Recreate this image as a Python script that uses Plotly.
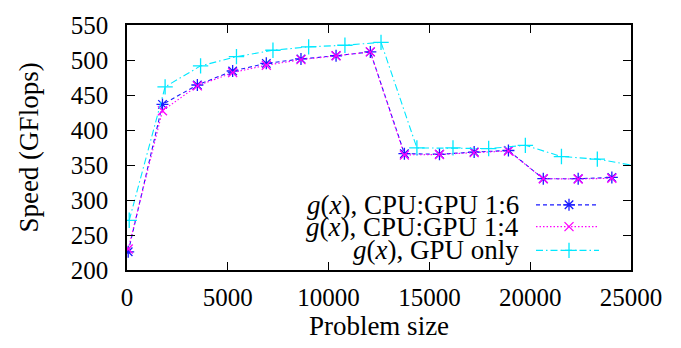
import plotly.graph_objects as go

# ---- data ----
x_cpu16 = [60, 1760, 3490, 5240, 6910, 8630, 10370, 12070, 13760, 15500, 17220, 18920, 20650, 22380, 24050]
y_cpu16 = [226, 436.6, 464.3, 484.3, 495.2, 501.5, 506.1, 511.6, 366.2, 365.3, 368.5, 370.7, 330.4, 330.4, 332.2]

x_cpu14 = [60, 1760, 3490, 5240, 6910, 8630, 10370, 12070, 13760, 15500, 17220, 18920, 20650, 22380, 24050]
y_cpu14 = [230, 427.5, 463.0, 482.0, 492.5, 500.5, 506.0, 511.6, 364.4, 365.0, 367.7, 370.0, 330.4, 330.0, 331.0]

x_gpu = [110, 1890, 3650, 5430, 7240, 9010, 10810, 12600, 14380, 16170, 17940, 19760, 21550, 23330, 25080]
y_gpu = [271, 461.6, 491.6, 504.8, 513.9, 518.8, 521.1, 525.2, 374.4, 374.4, 373.5, 378.1, 362.1, 358.4, 349.5]

names = ["<i>g</i>(<i>x</i>), CPU:GPU 1:6",
         "<i>g</i>(<i>x</i>), CPU:GPU 1:4",
         "<i>g</i>(<i>x</i>), GPU only"]
x_ticks = [0, 5000, 10000, 15000, 20000, 25000]
y_ticks = [200, 250, 300, 350, 400, 450, 500, 550]

FONT = "Liberation Serif"
FS_TICK = 25
FS_TEXT = 27

styles = [
    dict(color="#1a1aff", dash="4px,3px", symbol="asterisk-open", size=10),
    dict(color="#ff00ff", dash="1.5px,2px", symbol="x-thin-open", size=9),
    dict(color="#00e8ff", dash="7px,3px,1.5px,3px", symbol="cross-thin-open", size=11),
]
series = [(x_cpu16, y_cpu16), (x_cpu14, y_cpu14), (x_gpu, y_gpu)]

fig = go.Figure()
for (xs, ys), st, nm in zip(series, styles, names):
    fig.add_trace(go.Scatter(
        x=xs, y=ys, mode="lines+markers", name=nm, showlegend=False,
        line=dict(color=st["color"], width=1.1, dash=st["dash"]),
        marker=dict(symbol=st["symbol"], size=st["size"], color=st["color"],
                    line=dict(color=st["color"], width=1.3)),
    ))

# custom gnuplot-style key: text right-aligned, sample on the right
key_rows = [0.266, 0.177, 0.080]
for row, st, nm in zip(key_rows, styles, names):
    fig.add_trace(go.Scatter(
        x=[0.8115, 0.9365], y=[row, row], mode="lines", xaxis="x2", yaxis="y2",
        showlegend=False, hoverinfo="skip",
        line=dict(color=st["color"], width=1.1, dash=st["dash"])))
    fig.add_trace(go.Scatter(
        x=[0.877], y=[row], mode="markers", xaxis="x2", yaxis="y2",
        showlegend=False, hoverinfo="skip",
        marker=dict(symbol=st["symbol"], size=st["size"], color=st["color"],
                    line=dict(color=st["color"], width=1.3))))
    fig.add_annotation(x=0.782, y=row, xref="paper", yref="paper", text=nm,
                       showarrow=False, xanchor="right", yanchor="middle",
                       font=dict(family=FONT, size=FS_TEXT, color="black"))

axis_common = dict(
    showgrid=False, zeroline=False, showline=True, linecolor="black", linewidth=1.5,
    mirror="allticks", ticks="inside", ticklen=8, tickcolor="black", tickwidth=1,
    tickfont=dict(family=FONT, size=FS_TICK, color="black"),
)

fig.update_layout(
    width=681, height=348,
    margin=dict(l=127, r=50, t=21, b=70),
    paper_bgcolor="white", plot_bgcolor="white",
    font=dict(family=FONT, size=FS_TICK, color="black"),
    xaxis=dict(range=[0, 25000], tickvals=x_ticks, ticktext=[str(v) for v in x_ticks],
               ticklabelstandoff=4,
               title=dict(text="Problem size", font=dict(family=FONT, size=FS_TEXT, color="black"), standoff=6),
               **axis_common),
    yaxis=dict(range=[200, 550], tickvals=y_ticks, ticktext=[str(v) for v in y_ticks],
               ticklabelstandoff=12,
               title=dict(text="Speed (GFlops)", font=dict(family=FONT, size=FS_TEXT, color="black"), standoff=24),
               **axis_common),
    xaxis2=dict(range=[0, 1], overlaying="x", visible=False, fixedrange=True),
    yaxis2=dict(range=[0, 1], overlaying="y", visible=False, fixedrange=True),
    showlegend=False,
)

fig.write_html("out.html")
